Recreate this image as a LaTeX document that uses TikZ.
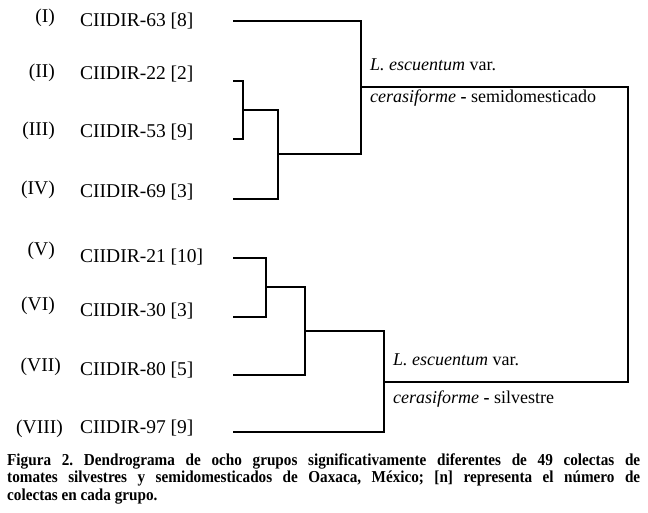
\documentclass[tikz,border=0pt]{standalone}
\usepackage{fontspec}
\setmainfont{Liberation Serif}
\frenchspacing
\begin{document}
\begin{tikzpicture}[x=1pt,y=-1pt,
  leaf/.style={anchor=base west,inner sep=0pt,font=\fontsize{19.5}{22}\selectfont},
  roman/.style={anchor=base east,inner sep=0pt,font=\fontsize{19.5}{22}\selectfont},
  clab/.style={anchor=base west,inner sep=0pt,font=\fontsize{18}{21}\selectfont},
  capline/.style={anchor=base west,inner sep=0pt,font=\fontsize{15.2}{18}\selectfont\bfseries},
  branch/.style={line width=1.7pt,line cap=rect}]
\useasboundingbox (0,0) rectangle (648,513);
\fill[white] (0,0) rectangle (648,513);
% roman numerals
\node[roman] (r1) at (55,23) {(I)};
\node[roman] (r2) at (55,78) {(II)};
\node[roman] (r3) at (55,136) {(III)};
\node[roman] (r4) at (55,195) {(IV)};
\node[roman] (r5) at (55,255) {(V)};
\node[roman] (r6) at (55,310) {(VI)};
\node[roman] (r7) at (61,371) {(VII)};
\node[roman] (r8) at (63,433) {(VIII)};
% leaf labels
\node[leaf] (t1) at (80,27) {CIIDIR-63 [8]};
\node[leaf] (t2) at (80,80) {CIIDIR-22 [2]};
\node[leaf] (t3) at (80,138) {CIIDIR-53 [9]};
\node[leaf] (t4) at (80,198) {CIIDIR-69 [3]};
\node[leaf] (t5) at (80,262) {CIIDIR-21 [10]};
\node[leaf] (t6) at (80,316) {CIIDIR-30 [3]};
\node[leaf] (t7) at (80,375) {CIIDIR-80 [5]};
\node[leaf] (t8) at (80,433) {CIIDIR-97 [9]};
% leaf line ends
\coordinate (l1) at (234,21);
\coordinate (l2) at (234,81);
\coordinate (l3) at (234,139);
\coordinate (l4) at (234,199);
\coordinate (l5) at (234,258);
\coordinate (l6) at (234,317);
\coordinate (l7) at (234,375);
\coordinate (l8) at (234,432);
% branch points
\coordinate (b23) at (243,110);
\coordinate (b234) at (278,154);
\coordinate (b1234) at (361,87);
\coordinate (b56) at (266,287);
\coordinate (b567) at (305,331);
\coordinate (b5678) at (384,382);
\coordinate (root) at (628,234);
% dendrogram
\draw[branch] (l2) -| (b23) |- (l3);
\draw[branch] (b23) -| (b234) |- (l4);
\draw[branch] (l1) -| (b1234) |- (b234);
\draw[branch] (l5) -| (b56) |- (l6);
\draw[branch] (b56) -| (b567) |- (l7);
\draw[branch] (b567) -| (b5678) |- (l8);
\draw[branch] (b1234) -| (root) |- (b5678);
% cluster labels
\node[clab] (c1a) at (370,71) {\textit{L. escuentum} var.};
\node[clab] (c1b) at (370,103) {\textit{cerasiforme} \textbf{-} semidomesticado};
\node[clab] (c2a) at (393,365) {\textit{L. escuentum} var.};
\node[clab] (c2b) at (393,403) {\textit{cerasiforme} \textbf{-} silvestre};
% caption
\node[capline] (cap1) at (7,465) {\scalebox{1}[1.1]{\makebox[633pt][s]{Figura 2. Dendrograma de ocho grupos significativamente diferentes de 49 colectas de}}};
\node[capline] (cap2) at (7,482.5) {\scalebox{1}[1.1]{\makebox[633pt][s]{tomates silvestres y semidomesticados de Oaxaca, México; [n] representa el número de}}};
\node[capline] (cap3) at (7,500) {\scalebox{1}[1.1]{colectas en cada grupo.}};
\end{tikzpicture}
\end{document}
